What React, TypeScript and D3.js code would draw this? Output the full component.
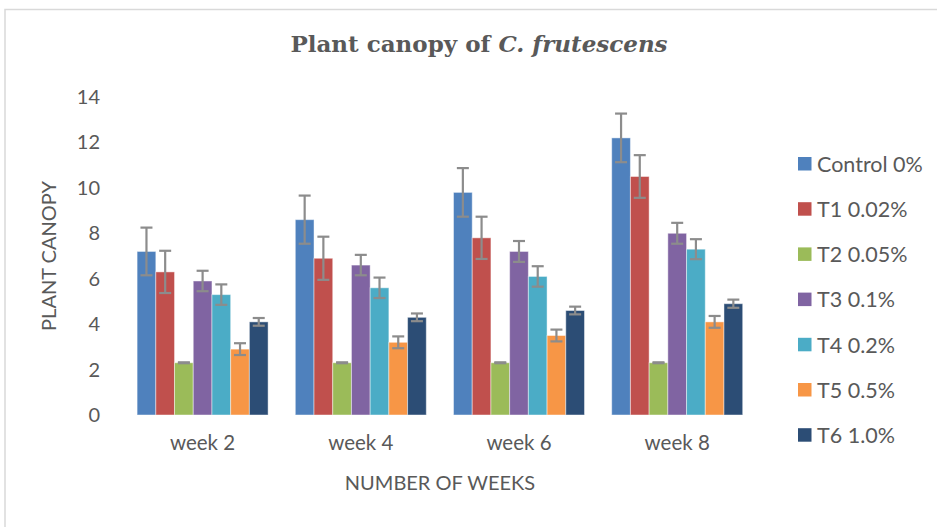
import React from "react";
import * as d3 from "d3";

const categories = ["week 2", "week 4", "week 6", "week 8"];
const seriesNames = ["Control 0%", "T1 0.02%", "T2 0.05%", "T3 0.1%", "T4 0.2%", "T5 0.5%", "T6 1.0%"];
const seriesColors = ["#4F81BD", "#C0504D", "#9BBB59", "#8064A2", "#4BACC6", "#F79646", "#2C4D75"];

const control = [7.2, 8.6, 9.8, 12.2];
const t1 = [6.3, 6.9, 7.8, 10.5];
const t2 = [2.3, 2.3, 2.3, 2.3];
const t3 = [5.9, 6.6, 7.2, 8.0];
const t4 = [5.3, 5.6, 6.1, 7.3];
const t5 = [2.9, 3.2, 3.5, 4.1];
const t6 = [4.1, 4.3, 4.6, 4.9];

const controlErr = [1.05, 1.06, 1.07, 1.07];
const t1Err = [0.93, 0.95, 0.93, 0.94];
const t2Err = [0.02, 0.02, 0.02, 0.02];
const t3Err = [0.45, 0.45, 0.46, 0.46];
const t4Err = [0.45, 0.45, 0.45, 0.44];
const t5Err = [0.26, 0.26, 0.26, 0.26];
const t6Err = [0.17, 0.17, 0.17, 0.18];

const yTicks = [0, 2, 4, 6, 8, 10, 12, 14];

const seriesValues = [control, t1, t2, t3, t4, t5, t6];
const seriesErrors = [controlErr, t1Err, t2Err, t3Err, t4Err, t5Err, t6Err];

const W = 937;
const H = 527;
const TEXT = "#595959";
const FONT = "Lato, 'Open Sans', sans-serif";

export default function App() {
  const x0 = d3.scaleBand<string>().domain(categories).range([123.5, 756.3]).paddingInner(0.172).paddingOuter(0.086);
  const x1 = d3.scaleBand<number>().domain(d3.range(seriesNames.length)).range([0, x0.bandwidth()]).padding(0);
  const y = d3.scaleLinear().domain([0, 14]).range([415, 97]);
  const capW = 12;

  return (
    <svg width={W} height={H} style={{ position: "absolute", left: 0, top: 0, background: "#fff" }}>
      <rect x={5} y={9.5} width={W + 10} height={H + 10} fill="#fff" stroke="#d9d9d9" strokeWidth={1.5} />
      <text x={479} y={52} textAnchor="middle" fontFamily="'DejaVu Serif', serif" fontWeight="bold" fontSize={23} fill={TEXT}>
        Plant canopy of <tspan fontStyle="italic">C. frutescens</tspan>
      </text>

      {yTicks.map((t) => (
        <text key={t} x={100} y={y(t)} dy="0.35em" textAnchor="end" fontFamily={FONT} fontSize={20} fill={TEXT}>
          {t}
        </text>
      ))}

      <text transform={`translate(56,256) rotate(-90)`} textAnchor="middle" fontFamily={FONT} fontSize={20} fill={TEXT}>
        PLANT CANOPY
      </text>

      {categories.map((c, ci) => (
        <g key={c} transform={`translate(${x0(c)},0)`}>
          {seriesValues.map((vals, si) => {
            const v = vals[ci];
            const bx = x1(si)!;
            const bw = x1.bandwidth();
            return (
              <rect key={si} x={bx} y={y(v)} width={bw} height={y(0) - y(v)} fill={seriesColors[si]} stroke="#ffffff" strokeOpacity={0.45} strokeWidth={1} />
            );
          })}
          {seriesValues.map((vals, si) => {
            const v = vals[ci];
            const e = seriesErrors[si][ci];
            const cx = x1(si)! + x1.bandwidth() / 2;
            const yt = y(v + e);
            const yb = y(v - e);
            return (
              <g key={"e" + si} stroke="#8c8c8c" strokeWidth={2.2}>
                <line x1={cx} x2={cx} y1={yt} y2={yb} />
                <line x1={cx - capW / 2} x2={cx + capW / 2} y1={yt} y2={yt} />
                <line x1={cx - capW / 2} x2={cx + capW / 2} y1={yb} y2={yb} />
              </g>
            );
          })}
          <text x={x0.bandwidth() / 2} y={450} textAnchor="middle" fontFamily={FONT} fontSize={20.5} fill={TEXT}>
            {c}
          </text>
        </g>
      ))}

      <text x={440} y={490} textAnchor="middle" fontFamily={FONT} fontSize={20} fill={TEXT}>
        NUMBER OF WEEKS
      </text>

      {seriesNames.map((n, i) => {
        const cy = 164 + i * 45.2;
        return (
          <g key={n}>
            <rect x={798} y={cy - 7} width={13.5} height={13.5} fill={seriesColors[i]} />
            <text x={817} y={cy} dy="0.36em" fontFamily={FONT} fontSize={21.5} fill={TEXT}>
              {n}
            </text>
          </g>
        );
      })}
    </svg>
  );
}
